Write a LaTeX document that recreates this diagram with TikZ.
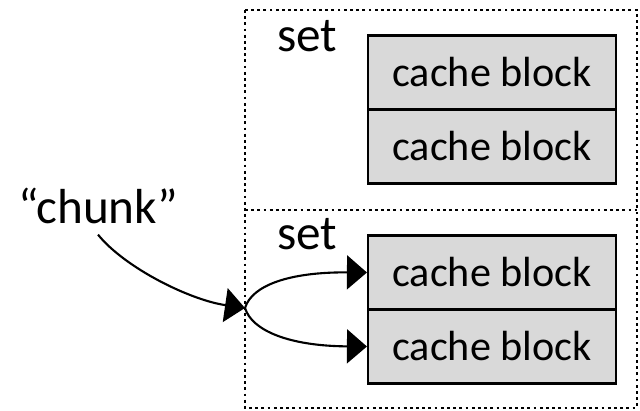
\documentclass[tikz,border=0pt]{standalone}
\usepackage{fontspec}
\setmainfont{Carlito}
\usetikzlibrary{arrows.meta,positioning}
\tikzset{
  blk/.style={draw, fill=black!15, line width=1.5pt, minimum width=62mm,
    minimum height=18.5mm, inner sep=0pt},
  setbox/.style={line width=1.5pt, dash pattern=on 2pt off 2.4pt},
  big/.style={font=\fontsize{35}{40}\selectfont},
  tip/.style={-{Triangle[length=5mm,width=8.5mm]}, line width=1.5pt},
}
\begin{document}
\begin{tikzpicture}[x=0.25mm, y=-0.25mm, every node/.style={font=\fontsize{30}{36}\selectfont}]
	\useasboundingbox (0,0) rectangle (640,411);
	% the two sets
	\draw[setbox] (245,10) rectangle (637,408);
	\draw[setbox] (245,210) -- (637,210);
	\node[big, anchor=base] (set1) at (307,52) {set};
	\node[big, anchor=base] (set2) at (307,250) {set};
	% blocks of each set
	\node[blk] (b1) at (492,72.5) {cache block};
	\node[blk, below=-1.5pt of b1] (b2) {cache block};
	\node[blk] (b3) at (492,272.5) {cache block};
	\node[blk, below=-1.5pt of b3] (b4) {cache block};
	% the chunk goes into either block
	\node[big, anchor=base, inner sep=2.5mm] (chunk) at (98,224) {“chunk”};
	\coordinate (split) at (245,308);
	\draw[tip] (chunk.south) .. controls (125,268) and (190,300) .. (split);
	\draw[tip] (split) .. controls (252,285) and (290,272) .. (b3.west);
	\draw[tip] (split) .. controls (252,331) and (290,346) .. (b4.west);
\end{tikzpicture}
\end{document}
